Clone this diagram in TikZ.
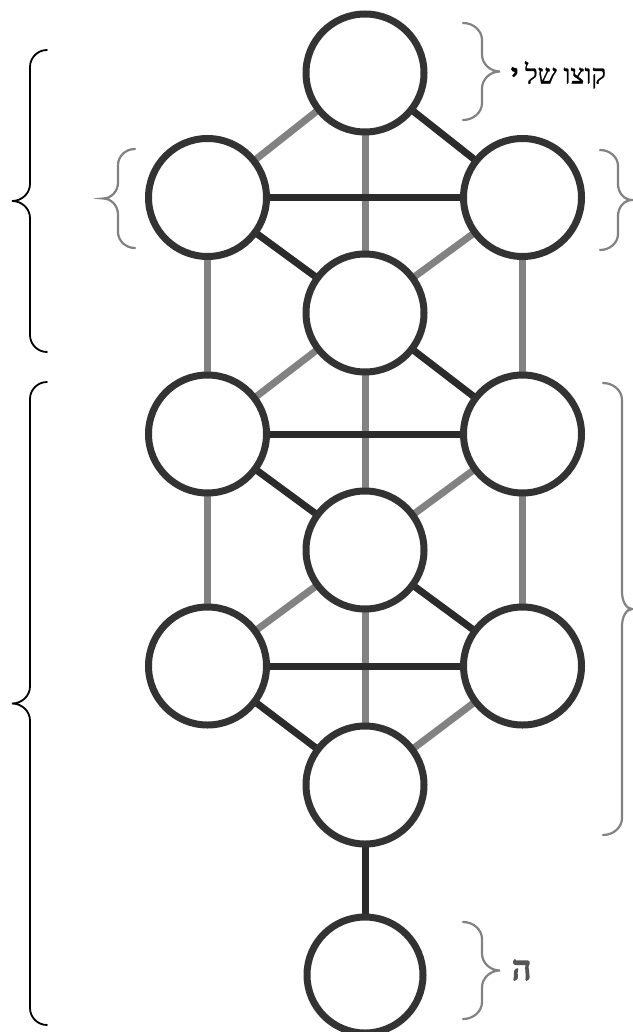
\documentclass[tikz,border=0pt]{standalone}
\usepackage{fontspec}
\setmainfont{Liberation Serif}
\newfontfamily\hebfont[Script=Hebrew,FakeBold=1]{Liberation Serif}
\newfontfamily\hebheavy[Script=Hebrew,FakeBold=5]{Liberation Serif}
\TeXXeTstate=1
\definecolor{ringc}{HTML}{333333}
\definecolor{darkc}{HTML}{2B2B2B}
\definecolor{grayc}{HTML}{828282}
\definecolor{txtc}{HTML}{4A4A4A}
\definecolor{hec}{HTML}{555555}
\newcommand\MyBrace[6]{%
  (#1,#4) .. controls ({#1+0.55*(#2-#1)},#4) and (#2,{#4+0.45*#6}) .. (#2,{#4+#6})
  -- (#2,{(#4+#5)/2-#6}) .. controls (#2,{(#4+#5)/2-0.45*#6}) and ({#3+0.55*(#2-#3)},{(#4+#5)/2}) .. (#3,{(#4+#5)/2})
  .. controls ({#3+0.55*(#2-#3)},{(#4+#5)/2}) and (#2,{(#4+#5)/2+0.45*#6}) .. (#2,{(#4+#5)/2+#6})
  -- (#2,{#5-#6}) .. controls (#2,{#5-0.45*#6}) and ({#1+0.55*(#2-#1)},#5) .. (#1,#5)}
\begin{document}
\begin{tikzpicture}[x=1pt,y=-1pt,
  sefira/.style={circle,draw=ringc,line width=7pt,fill=white,minimum size=118pt,inner sep=0pt},
  grayline/.style={draw=grayc,line width=7pt},
  darkline/.style={draw=darkc,line width=7pt},
  blackbrace/.style={draw=black,line width=1.8pt,line cap=round},
  graybrace/.style={draw=grayc,line width=2.2pt,line cap=round},
  lbl/.style={inner sep=0pt,font=\hebfont\fontsize{27}{30}\selectfont,text=txtc}]
\useasboundingbox (0,0) rectangle (632,1032);
\fill[white] (0,0) rectangle (632,1032);
% centres
\coordinate (cK) at (365,73);
\coordinate (cL1) at (207.5,197.5);
\coordinate (cR1) at (522.5,197.5);
\coordinate (cD) at (365,313);
\coordinate (cL3) at (207.5,434);
\coordinate (cR3) at (522.5,434);
\coordinate (cM) at (365,550);
\coordinate (cL5) at (207.5,666);
\coordinate (cR5) at (522.5,666);
\coordinate (cBM) at (365,785);
\coordinate (cB) at (365,975);
% gray connectors
\draw[grayline] (cK) -- (cL1);
\draw[grayline] (cK) -- (cD);
\draw[grayline] (cD) -- (cR1);
\draw[grayline] (cL1) -- (cL3);
\draw[grayline] (cR1) -- (cR3);
\draw[grayline] (cD) -- (cL3);
\draw[grayline] (cD) -- (cM);
\draw[grayline] (cR3) -- (cM);
\draw[grayline] (cL3) -- (cL5);
\draw[grayline] (cR3) -- (cR5);
\draw[grayline] (cM) -- (cL5);
\draw[grayline] (cM) -- (cBM);
\draw[grayline] (cR5) -- (cBM);
% dark connectors
\draw[darkline] (cK) -- (cR1);
\draw[darkline] (cL1) -- (cR1);
\draw[darkline] (cL1) -- (cD);
\draw[darkline] (cD) -- (cR3);
\draw[darkline] (cL3) -- (cR3);
\draw[darkline] (cL3) -- (cM);
\draw[darkline] (cM) -- (cR5);
\draw[darkline] (cL5) -- (cR5);
\draw[darkline] (cL5) -- (cBM);
\draw[darkline] (cBM) -- (cB);
% circles
\node[sefira] (K) at (cK) {};
\node[sefira] (L1) at (cL1) {};
\node[sefira] (R1) at (cR1) {};
\node[sefira] (D) at (cD) {};
\node[sefira] (L3) at (cL3) {};
\node[sefira] (R3) at (cR3) {};
\node[sefira] (M) at (cM) {};
\node[sefira] (L5) at (cL5) {};
\node[sefira] (R5) at (cR5) {};
\node[sefira] (BM) at (cBM) {};
\node[sefira,minimum size=116pt] (B) at (cB) {};
% braces
\draw[blackbrace] \MyBrace{47}{30}{12}{50}{352}{17};
\draw[blackbrace] \MyBrace{47}{30}{12}{382}{1025}{17};
\draw[graybrace] \MyBrace{135}{118}{103}{149}{248}{16};
\draw[graybrace] \MyBrace{600}{618}{632}{150}{250}{16};
\draw[graybrace] \MyBrace{603}{622}{632}{383}{835}{17};
\draw[graybrace] \MyBrace{463}{482}{500}{23}{120}{17};
\draw[graybrace] \MyBrace{463}{482}{500}{922}{1019}{17};
% labels
\node[lbl,anchor=west] (kotzo) at (511,75) {\beginR קוצו של {\hebheavy\color{black}י}\endR};
\node[lbl,anchor=west,font=\hebheavy\fontsize{33}{35}\selectfont,text=hec] (he) at (512,970) {ה};
\end{tikzpicture}
\end{document}
